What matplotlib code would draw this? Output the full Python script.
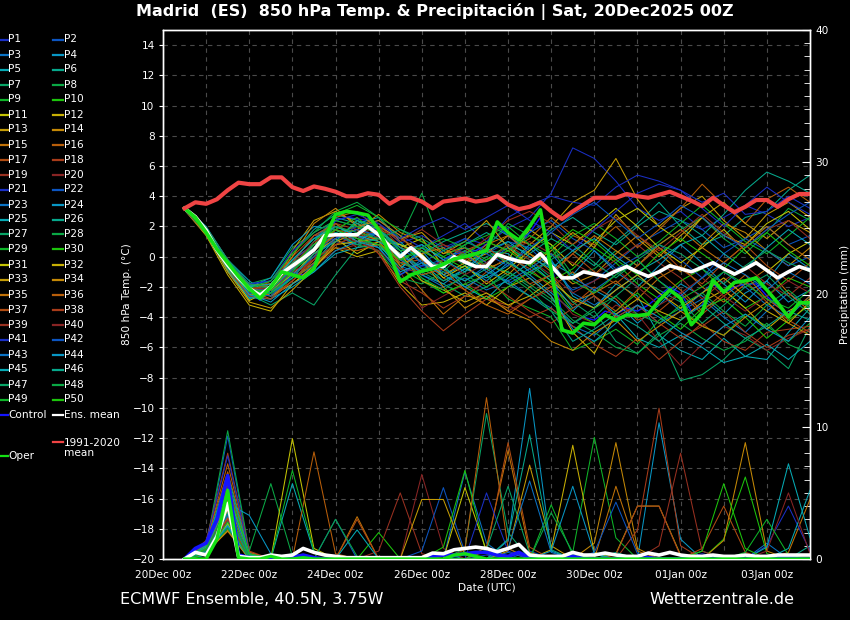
import matplotlib
matplotlib.use("Agg")
import matplotlib.pyplot as plt
from matplotlib.lines import Line2D
from matplotlib.ticker import MultipleLocator

plt.rcParams['font.family'] = ['DejaVu Sans']

# ---------------- data ----------------
tick_pos = [0, 2, 4, 6, 8, 10, 12, 14]
tick_labels = ['20Dec 00z', '22Dec 00z', '24Dec 00z', '26Dec 00z',
               '28Dec 00z', '30Dec 00z', '01Jan 00z', '03Jan 00z']

# 6-hourly time axis (days since 20Dec 00z) for main lines
t6 = [0.5 + 0.25 * k for k in range(59)]
# 12-hourly time axis for ensemble members
t12 = [0.5 + 0.5 * j for j in range(30)]

clim_mean = [3.2, 3.6, 3.5, 3.8, 4.4, 4.9, 4.8, 4.8, 5.25, 5.25,
             4.6, 4.35, 4.65, 4.5, 4.3, 4.0, 4.0, 4.2, 4.1, 3.5,
             3.9, 3.9, 3.65, 3.2, 3.65, 3.75, 3.85, 3.65, 3.75, 4.0,
             3.45, 3.15, 3.3, 3.6, 3.0, 2.5, 3.0, 3.45, 3.9, 3.9,
             3.9, 4.15, 4.0, 3.9, 4.1, 4.3, 4.0, 3.7, 3.35, 3.9,
             3.4, 2.95, 3.3, 3.75, 3.75, 3.3, 3.8, 4.15, 4.15]

ens_mean = [3.2, 2.65, 1.75, 0.45, -0.55, -1.4, -2.1, -2.55, -1.98, -1.1,
            -0.6, -0.1, 0.45, 1.4, 1.45, 1.45, 1.45, 2.0, 1.45, 0.7,
            0.0, 0.6, 0.0, -0.65, -0.65, 0.0, -0.35, -0.65, -0.65, 0.15,
            -0.1, -0.3, -0.4, 0.2, -0.6, -1.4, -1.4, -1.0, -1.15, -1.3,
            -0.95, -0.65, -1.0, -1.3, -1.0, -0.6, -0.8, -1.0, -0.7, -0.4,
            -0.8, -1.15, -0.8, -0.4, -0.9, -1.4, -1.0, -0.65, -0.9]

oper = [3.2, 2.6, 1.6, 0.5, -0.4, -1.3, -2.1, -2.75, -2.0, -1.0,
        -1.2, -1.4, -0.8, 1.2, 2.8, 3.0, 2.9, 2.75, 1.8, 0.2,
        -1.65, -1.2, -0.95, -0.8, -0.5, -0.15, 0.0, 0.2, 0.4, 2.3,
        1.6, 1.1, 2.0, 3.1, -0.9, -4.85, -5.05, -4.4, -4.5, -3.85,
        -4.2, -3.85, -3.9, -3.8, -2.9, -2.2, -2.75, -4.5, -3.7, -1.55,
        -2.35, -1.7, -1.6, -1.4, -2.2, -3.05, -4.0, -3.05, -3.05]

control = [3.2, 2.5, 1.5, 0.4, -0.5, -1.4, -2.2, -2.9, -2.2, -1.2,
           -1.0, -1.2, -0.5, 1.0, 2.4, 2.6, 2.5, 2.4, 1.6, 0.4,
           -1.2, -0.8, -0.6, -0.6, -0.2, 0.2, 0.3, 0.4, 0.8, 2.0,
           1.4, 0.8, 1.6, 2.6, -0.4, -3.8, -4.4, -4.0, -4.2, -3.6,
           -3.8, -3.4, -3.6, -3.2, -2.6, -2.0, -2.4, -3.6, -3.2, -1.8,
           -2.4, -2.0, -1.8, -1.8, -2.6, -3.3, -3.8, -3.0, -3.2]

prec_mean = [0.0, 0.5, 0.3, 1.7, 4.2, 0.2, 0.1, 0.1, 0.3, 0.2,
             0.3, 0.8, 0.5, 0.3, 0.2, 0.1, 0.1, 0.1, 0.1, 0.1,
             0.1, 0.1, 0.1, 0.45, 0.4, 0.7, 0.8, 0.9, 0.8, 0.55,
             0.8, 1.1, 0.3, 0.2, 0.2, 0.2, 0.5, 0.3, 0.3, 0.45,
             0.3, 0.2, 0.2, 0.45, 0.3, 0.5, 0.3, 0.2, 0.2, 0.3,
             0.2, 0.2, 0.3, 0.2, 0.2, 0.3, 0.3, 0.3, 0.3]

prec_control = [0.0, 0.8, 1.2, 3.0, 6.3, 0.3, 0.1, 0.0, 0.0, 0.0,
                0.1, 0.3, 0.1, 0.0, 0.0, 0.0, 0.0, 0.0, 0.0, 0.0,
                0.0, 0.0, 0.0, 0.2, 0.3, 0.3, 0.4, 0.5, 0.5, 0.3,
                0.2, 0.5, 0.1, 0.0, 0.0, 0.0, 0.2, 0.0, 0.0, 0.0,
                0.0, 0.0, 0.0, 0.1, 0.0, 0.0, 0.0, 0.0, 0.0, 0.0,
                0.0, 0.0, 0.0, 0.0, 0.0, 0.1, 0.1, 0.0, 0.0]

prec_oper = [0.0, 0.0, 0.0, 1.5, 5.2, 0.1, 0.0, 0.0, 0.2, 0.0,
             0.0, 0.1, 0.0, 0.0, 0.0, 0.0, 0.0, 0.0, 0.0, 0.0,
             0.0, 0.0, 0.0, 0.0, 0.0, 0.3, 0.4, 0.2, 0.0, 0.0,
             0.0, 0.0, 0.0, 0.0, 0.0, 0.0, 0.0, 0.0, 0.0, 0.0,
             0.0, 0.0, 0.0, 0.0, 0.0, 0.0, 0.0, 0.0, 0.0, 0.0,
             0.0, 0.0, 0.0, 0.0, 0.0, 0.0, 0.0, 0.0, 0.0]

# ensemble member 850 hPa temperatures (12-hourly)
t_p01 = [3.2, 1.8, -0.3, -2.0, -2.4, -0.9, 0.8, 2.0, 1.6, 2.2, 0.9, 1.4, 0.6, 1.2, 0.8, 1.9, 2.6, 4.2, 7.2, 6.5, 5.0, 3.2, 2.4, 3.0, 1.8, 2.6, 3.4, 2.8, 2.0, 2.6]
t_p02 = [3.3, 1.6, -0.8, -2.3, -1.8, -0.2, 1.2, 2.4, 2.0, 1.2, 0.4, 0.8, -0.2, 0.6, 0.2, 1.0, 0.6, -0.8, -2.2, -1.6, -0.4, 0.8, 1.6, 2.4, 1.8, 0.6, 1.2, 2.0, 0.8, 1.4]
t_p03 = [3.1, 1.9, -0.5, -2.6, -2.8, -1.2, 0.2, 1.0, 0.8, 1.6, -0.6, -1.2, -2.0, -1.4, -2.2, -1.6, -2.6, -3.4, -4.6, -5.2, -4.0, -3.2, -4.4, -3.6, -2.8, -4.0, -5.0, -3.6, -2.4, -3.4]
t_p04 = [3.2, 1.5, -1.0, -2.8, -2.2, -0.4, 1.4, 2.2, 1.0, 0.8, -0.8, 0.4, -1.2, -0.6, -1.6, -0.4, -1.2, -2.4, -3.6, -2.2, -3.0, -4.4, -3.2, -1.8, -2.6, -3.8, -2.4, -1.6, -3.0, -2.2]
t_p05 = [3.3, 2.0, -0.2, -1.6, -2.6, -1.4, -0.4, 1.2, 2.2, 2.6, 1.0, -0.4, -1.6, -0.8, 0.4, 0.2, -1.0, -0.2, -2.6, -3.4, -1.8, -2.6, -5.2, -6.2, -6.8, -5.4, -6.6, -6.8, -5.0, -3.4]
t_p06 = [3.2, 1.7, -0.6, -2.0, -1.6, 0.2, 1.8, 2.8, 2.4, 1.4, 0.2, -0.8, -0.4, 0.8, 1.6, 0.8, 0.2, 1.2, 0.4, -0.6, 1.0, 2.2, 3.6, 2.0, 0.8, 1.4, 2.6, 3.0, 4.4, 5.4]
t_p07 = [3.1, 1.6, -0.9, -2.5, -3.2, -2.4, -3.2, -1.2, 0.6, 1.8, -0.4, -1.0, -1.8, -2.6, -2.0, -1.0, -2.0, -3.0, -4.4, -3.6, -5.6, -6.4, -5.0, -8.2, -7.8, -6.8, -5.4, -6.2, -7.4, -4.6]
t_p08 = [3.2, 1.9, -0.4, -1.8, -1.4, 0.6, 1.6, 3.0, 3.6, 2.6, 1.2, 4.2, 0.4, -0.6, 0.6, 2.2, 1.4, 0.8, -1.2, -0.8, 0.4, -0.6, 0.8, 1.8, 2.6, 1.2, 0.2, 1.6, 3.2, 2.4]
t_p09 = [3.2, 1.7, -0.7, -2.2, -2.0, -0.8, 0.0, 1.6, 2.0, 1.0, -0.8, -1.6, -2.4, -1.8, -1.2, -2.8, -3.4, -4.0, -6.2, -5.6, -4.8, -5.8, -4.2, -3.4, -4.6, -5.2, -3.8, -4.6, -5.6, -4.4]
t_p10 = [3.3, 1.8, -0.5, -2.4, -2.6, -1.0, 1.0, 2.2, 1.2, 0.6, -0.2, 0.6, 0.0, -0.8, -0.2, 0.8, -0.6, -1.6, -0.8, 0.6, -0.4, -1.8, -2.8, -1.6, -0.8, -2.2, -3.4, -2.6, -1.4, -2.0]
t_p11 = [3.2, 1.6, -0.8, -2.9, -2.2, -0.6, 0.4, 1.8, 1.0, 1.8, 0.6, 1.2, -0.6, 0.2, -0.8, -0.2, 1.8, 0.8, -0.6, 1.0, 2.4, 3.2, 2.0, 1.0, 2.6, 1.4, 0.8, 2.2, 3.0, 1.8]
t_p12 = [3.1, 1.4, -1.2, -3.2, -3.6, -1.8, -0.6, 0.6, 0.0, 0.4, -1.8, -3.2, -3.0, -2.4, -3.2, -2.0, -1.4, -2.6, -5.0, -6.4, -3.8, -2.8, -3.6, -4.2, -3.0, -2.2, -3.4, -4.8, -3.6, -2.8]
t_p13 = [3.2, 1.8, -0.6, -2.0, -2.4, 0.4, 2.4, 3.0, 2.2, 1.6, 0.8, 0.0, -1.2, -0.4, 0.2, 1.4, 0.8, 2.0, 3.6, 4.4, 6.5, 3.8, 2.0, 3.2, 4.0, 2.4, 1.2, 2.8, 3.6, 2.6]
t_p14 = [3.2, 1.9, -0.2, -1.9, -1.8, -0.8, 0.6, 1.4, 1.8, 2.8, 1.6, 1.0, 0.2, 0.6, -0.4, -1.2, 0.2, -0.6, -1.8, -1.2, 0.2, 1.4, 0.2, -1.0, 0.8, 2.2, 1.6, 0.4, -0.6, 0.6]
t_p15 = [3.2, 1.5, -0.9, -2.6, -2.0, -0.2, 0.8, 2.6, 3.0, 1.8, -0.6, -2.2, -3.8, -2.6, -2.8, -3.4, -2.0, -1.2, -3.0, -2.4, -1.6, -2.8, -1.4, -0.6, -2.0, -3.0, -1.8, -0.8, -2.4, -3.6]
t_p16 = [3.3, 1.8, -0.4, -2.2, -2.8, -1.6, -0.2, 0.8, 1.4, 1.2, 0.2, -1.0, -0.6, 0.4, 1.0, 0.4, 1.2, 2.6, 1.4, 0.8, 2.0, 0.6, 1.8, 3.2, 4.8, 3.4, 2.2, 3.8, 4.6, 3.6]
t_p17 = [3.2, 1.6, -0.7, -2.4, -1.6, 0.0, 1.4, 1.6, 0.6, 1.0, -0.4, -0.2, -1.4, -2.2, -1.0, 0.0, -0.8, -2.0, -3.2, -2.0, -2.8, -4.2, -3.6, -2.4, -3.8, -2.6, -1.6, -3.0, -4.2, -5.0]
t_p18 = [3.1, 1.7, -0.5, -2.1, -2.4, -1.2, -0.2, 2.2, 1.8, 0.2, -2.0, -3.6, -4.9, -3.8, -2.8, -3.2, -4.0, -3.4, -4.6, -5.8, -6.6, -5.4, -6.8, -5.6, -4.4, -5.6, -6.2, -5.0, -4.8, -4.6]
t_p19 = [3.2, 1.8, -0.6, -2.3, -2.0, -0.4, 0.6, 1.0, 1.6, 2.2, 0.6, 0.2, 0.8, 0.0, -0.6, 0.4, 1.0, 0.2, -0.4, -1.2, -0.2, 0.8, -0.4, -1.4, -2.8, -1.6, -0.6, -1.8, -2.6, -1.4]
t_p20 = [3.2, 1.7, -0.3, -2.0, -2.2, -1.0, -0.6, 0.4, 0.8, 1.4, -1.0, -3.4, -2.6, -1.8, -2.4, -3.6, -2.8, -2.2, -3.8, -4.4, -3.2, -3.8, -5.6, -7.2, -5.8, -4.6, -5.2, -6.2, -5.4, -4.8]
t_p21 = [3.2, 1.9, -0.2, -1.8, -1.6, -0.2, 0.8, 1.2, 2.0, 2.4, 1.4, 0.6, 1.4, 2.2, 1.0, 2.6, 3.4, 4.0, 3.6, 3.4, 4.6, 5.4, 5.0, 4.4, 3.6, 4.2, 2.8, 3.0, 4.0, 3.2]
t_p22 = [3.3, 1.7, -0.6, -2.2, -2.4, -0.8, 0.2, 1.4, 0.8, 1.2, 0.0, -0.6, -0.2, 0.4, -0.4, 0.6, 1.6, 2.4, 1.2, 0.4, -0.8, 0.0, 0.8, -0.2, -1.4, 0.2, 1.2, 0.4, -0.6, 0.0]
t_p23 = [3.1, 1.5, -0.8, -2.6, -2.4, -0.6, 0.6, 2.0, 1.4, 0.6, -1.2, -0.2, -1.0, -1.6, -0.6, -1.8, -1.0, -0.2, -2.4, -3.2, -2.2, -1.2, -2.4, -3.6, -2.4, -1.0, -2.0, -3.2, -4.0, -2.6]
t_p24 = [3.2, 1.8, -0.5, -2.0, -1.4, 0.8, 2.0, 1.8, 1.0, 1.8, 0.4, -1.2, -1.8, -0.8, -1.4, -0.6, 0.8, -0.4, -1.2, 0.4, -1.0, -2.0, -0.6, 0.8, -0.4, -1.8, -3.0, -1.6, 0.2, -0.8]
t_p25 = [3.2, 1.6, -0.9, -2.7, -2.8, -2.0, -1.0, 0.2, 0.6, 0.8, -0.8, 0.6, -0.6, -2.0, -2.8, -1.4, -0.4, -1.6, -3.4, -2.6, -3.8, -5.4, -6.0, -5.2, -6.0, -7.0, -6.6, -5.8, -6.8, -5.6]
t_p26 = [3.2, 1.9, -0.3, -1.9, -2.0, -0.6, 1.0, 2.6, 2.2, 1.4, 0.8, 0.2, 1.0, 1.6, 2.2, 1.4, 0.4, 1.8, 2.6, 1.6, 0.8, 2.0, 3.0, 2.4, 1.4, 2.8, 4.4, 5.6, 5.0, 4.2]
t_p27 = [3.3, 1.8, -0.4, -2.1, -2.6, -1.4, -0.6, 1.0, 2.4, 2.0, 0.4, -0.8, -1.6, -1.0, 0.0, 0.6, -0.2, -1.4, -3.0, -4.0, -2.6, -1.4, -2.2, -3.0, -4.4, -3.2, -2.0, -1.2, -2.6, -3.8]
t_p28 = [3.2, 1.7, -0.6, -2.4, -2.0, -0.2, 1.2, 1.6, 0.8, 0.4, -1.4, -1.8, -1.0, 0.4, -0.6, -1.0, -1.8, -2.8, -4.2, -5.0, -6.0, -6.4, -5.2, -4.4, -5.4, -6.2, -5.6, -4.4, -5.8, -6.4]
t_p29 = [3.2, 1.6, -0.7, -2.3, -2.4, -1.0, 0.4, 2.8, 3.4, 2.6, 1.8, 1.0, 0.0, 0.8, 1.4, 2.0, 0.8, 0.0, 1.4, 2.2, 1.2, 0.0, 1.0, 2.2, 3.4, 2.2, 1.0, 0.2, 1.4, 2.6]
t_p30 = [3.1, 1.8, -0.4, -2.2, -1.8, -0.8, 0.6, 1.8, 2.6, 1.4, 0.0, -1.4, -2.4, -1.8, -2.8, -2.0, -1.0, -1.8, -3.6, -4.4, -3.6, -2.4, -3.8, -4.8, -3.4, -2.8, -4.0, -5.4, -4.2, -3.2]
t_p31 = [3.2, 1.7, -0.8, -2.5, -2.2, -1.2, 0.2, 1.2, 0.2, 1.0, 0.8, 0.2, -1.4, -0.6, -1.8, -0.8, 0.4, 1.6, 0.8, 2.0, 3.2, 2.0, 0.6, -0.4, 0.6, 1.8, 0.4, -1.0, 0.2, 1.0]
t_p32 = [3.3, 1.9, -0.3, -2.0, -2.6, -1.8, -0.8, 0.8, 1.0, 1.2, 0.2, -1.6, -2.2, -3.0, -2.4, -3.2, -2.6, -1.6, -2.8, -3.4, -2.2, -1.2, -2.4, -3.4, -2.4, -1.4, -2.6, -3.6, -4.4, -3.0]
t_p33 = [3.2, 1.6, -1.0, -3.0, -3.4, -2.2, -0.8, 1.0, 1.6, 2.0, 1.2, 1.6, 0.2, 1.0, 2.4, 0.6, -0.6, 0.4, 1.6, 0.6, 2.8, 1.2, 0.0, 1.4, 2.6, 3.6, 2.2, 1.2, 2.4, 1.6]
t_p34 = [3.2, 1.8, -0.5, -1.8, -2.0, 0.0, 2.2, 3.2, 2.0, 2.4, 1.4, -0.2, -2.0, -3.4, -2.6, -3.6, -4.2, -5.6, -6.2, -5.0, -4.2, -5.6, -4.6, -3.6, -4.6, -5.2, -4.0, -3.0, -4.4, -5.2]
t_p35 = [3.1, 1.5, -0.7, -2.4, -2.2, -0.8, 0.4, 1.4, 1.8, 1.0, -0.6, 0.2, 0.6, -0.4, 0.8, 1.4, 0.2, -1.0, 0.2, 1.4, 0.4, -0.6, 0.8, 1.8, 0.6, -0.4, 0.8, 2.0, 0.8, -0.2]
t_p36 = [3.2, 1.7, -0.4, -2.0, -2.6, -1.6, -0.4, 0.6, 0.4, 0.8, -0.2, -1.2, -0.8, -2.2, -3.2, -3.8, -2.8, -2.0, -1.0, -2.6, -3.6, -2.2, -1.0, -2.2, -3.6, -2.4, -1.2, -2.8, -3.8, -2.6]
t_p37 = [3.2, 1.9, -0.6, -2.2, -1.8, -0.4, 1.4, 2.2, 1.2, 1.8, 1.2, 0.4, -0.4, -0.2, 0.6, -0.4, -1.8, -1.2, 0.2, -1.0, -1.8, -0.6, 0.6, -0.8, -1.8, -0.4, 0.8, -0.6, -1.6, -0.4]
t_p38 = [3.3, 1.6, -0.8, -2.6, -2.8, -1.6, 0.0, 1.8, 1.4, 0.2, -1.6, -2.4, -3.4, -2.6, -1.6, -2.6, -3.6, -4.4, -3.4, -2.6, -4.0, -3.2, -4.4, -5.4, -4.6, -3.6, -5.0, -6.0, -5.2, -4.8]
t_p39 = [3.2, 1.8, -0.4, -2.0, -2.2, -1.0, -0.2, 0.8, 1.4, 2.0, 1.0, 1.8, 0.8, 0.2, 1.2, 2.4, 3.0, 2.2, 0.8, 1.8, 2.6, 1.4, 0.4, 1.6, 2.8, 1.6, 0.6, 1.8, 2.4, 1.2]
t_p40 = [3.1, 1.7, -0.6, -2.4, -2.0, -0.6, 1.0, 1.4, 1.0, 0.4, -0.8, -1.0, -0.2, -1.2, -0.4, 0.8, -0.2, -1.2, -2.4, -1.6, -0.8, -2.0, -3.2, -2.4, -1.4, -2.6, -3.6, -2.6, -1.6, -2.4]
t_p41 = [3.2, 1.8, -0.3, -1.8, -1.6, 0.4, 1.6, 2.4, 2.8, 2.2, 1.2, 2.0, 2.6, 1.8, 2.6, 3.4, 2.4, 1.6, 0.4, 1.8, 3.0, 4.2, 4.8, 4.4, 3.2, 2.0, 3.4, 4.6, 3.6, 2.8]
t_p42 = [3.2, 1.6, -0.7, -2.4, -2.6, -1.2, 0.0, 1.2, 1.8, 1.4, 0.6, -0.4, 0.4, 1.2, 0.2, -0.6, 0.6, 1.6, 2.8, 3.6, 2.4, 1.2, 2.2, 3.4, 2.6, 1.4, 0.6, 1.8, 2.8, 3.6]
t_p43 = [3.3, 1.9, -0.5, -2.2, -2.2, -0.8, 0.8, 1.6, 1.2, 1.6, -0.2, -1.0, -0.6, 0.2, -1.0, -1.6, -0.8, 0.2, -1.4, -2.2, -1.2, -0.2, -1.6, -2.6, -1.4, -0.4, -1.2, -2.2, -1.0, -1.8]
t_p44 = [3.2, 1.7, -0.6, -2.5, -3.0, -1.8, -1.0, 0.4, 1.0, 0.6, -1.0, -0.4, -1.2, -2.0, -1.2, -0.2, -1.4, -2.6, -4.8, -5.6, -4.4, -3.2, -4.0, -5.0, -5.8, -4.6, -3.8, -4.8, -5.6, -4.0]
t_p45 = [3.1, 1.8, -0.4, -2.0, -1.8, -0.2, 1.2, 2.0, 1.4, 1.0, 0.2, 0.8, -0.2, -1.0, 0.4, 1.0, 0.0, -0.8, 0.4, 1.2, 0.0, -1.0, -0.2, 0.8, 1.4, 0.2, -0.8, 0.6, 1.8, 0.8]
t_p46 = [3.2, 1.6, -0.8, -2.3, -2.4, -1.4, 0.2, 1.0, 2.4, 1.8, 0.6, 0.0, -0.8, -1.6, -0.8, -1.8, -2.6, -3.6, -5.6, -4.8, -3.8, -4.6, -5.6, -4.2, -3.2, -4.4, -5.4, -4.6, -3.6, -4.2]
t_p47 = [3.2, 1.9, -0.2, -1.8, -2.0, -0.4, 0.4, 1.6, 0.8, 1.2, 1.8, 1.2, 0.4, 1.0, 0.4, -0.4, -1.2, -0.2, 0.8, -0.4, -1.4, -0.2, 0.8, 0.2, -0.8, -1.8, -0.6, 0.4, -0.4, -1.0]
t_p48 = [3.2, 1.7, -0.5, -2.2, -2.4, -1.0, 0.6, 2.0, 1.6, 1.2, 0.0, -1.4, -2.2, -1.2, -2.0, -1.2, -2.2, -3.6, -4.4, -3.4, -2.6, -3.8, -4.4, -3.2, -2.4, -3.6, -4.6, -3.2, -2.2, -3.4]
t_p49 = [3.3, 1.8, -0.6, -2.1, -1.6, 0.2, 1.6, 2.4, 2.0, 1.6, 0.4, 0.6, 1.2, 0.6, -0.2, 0.4, 1.4, 0.6, -1.6, -2.4, -1.2, -0.2, -1.6, -2.8, -2.0, -1.0, -1.8, -2.8, -3.4, -2.2]
t_p50 = [3.2, 1.6, -0.7, -2.3, -2.2, -0.6, 0.8, 1.8, 1.2, 0.8, -0.2, 0.4, -0.4, 0.2, 1.0, 0.4, -0.6, 0.6, 1.8, 1.0, -0.2, -1.2, 0.2, 1.2, 0.2, -0.8, 0.6, 1.6, 0.4, -0.6]

# ensemble member precipitation (12-hourly, mm)
r_p01 = [0, 0.6, 3.2, 0.2, 0, 0, 0, 0, 0, 0,  0, 0, 0, 0, 0.3, 0, 0, 0, 0, 0,  0, 0, 0, 0, 0.4, 0, 0, 0, 0, 0]
r_p02 = [0, 0.8, 9.3, 0.4, 0, 0, 0, 3.0, 0, 0,  0, 0, 0, 0, 0, 0, 0.6, 0, 0, 0,  0, 0, 0, 0, 0, 0, 0, 0, 0, 0]
r_p03 = [0, 0.5, 4.1, 0, 0, 0, 0, 0, 0, 0,  0, 0, 0, 0.3, 0, 0.5, 0, 0, 0, 0,  0, 0, 0, 0, 0, 0, 0, 1.2, 0, 0]
r_p04 = [0, 0.9, 2.6, 0.3, 0, 0.4, 0, 0, 0, 0,  0, 0, 0, 0, 0, 0, 0, 0, 0, 0,  0, 0, 10.3, 1.5, 0, 0, 0, 0, 0, 0]
r_p05 = [0, 0.4, 3.8, 0.1, 0, 5.7, 0.5, 0, 0, 0,  0, 0, 0, 0, 0, 0, 0, 0, 0, 0,  0, 0, 0, 0, 0, 0, 0, 0, 0, 0]
r_p06 = [0, 1.2, 5.0, 0.5, 0, 0, 0, 0, 0, 0,  0, 0, 0.4, 0, 0, 0.8, 0, 0, 0, 0,  0, 0, 0, 0, 0.6, 0, 0, 0, 0, 1.0]
r_p07 = [0, 0.3, 2.4, 0, 0, 0, 0, 0, 0, 0,  0, 0, 0, 0, 0, 0, 0, 0, 0.3, 0,  0, 0, 0, 0, 0, 0, 0, 0, 0, 0]
r_p08 = [0, 1.0, 9.7, 0.6, 5.7, 0.2, 0, 0, 0, 0,  0, 0, 0, 0, 0, 0, 0, 0, 0, 0,  0, 0, 0, 0, 0, 0, 0, 0, 0, 0]
r_p09 = [0, 0.7, 3.5, 0, 0, 0, 0, 0, 0, 0,  0, 0, 0, 0, 0, 0, 0, 0, 0.5, 9.2,  1.6, 0, 0, 0, 0, 0, 0, 0, 0, 0]
r_p10 = [0, 0.5, 4.6, 0.2, 0, 0, 0, 0, 0, 2.0,  0, 0, 0, 0, 0, 0, 0, 0, 0, 0,  0, 0, 0, 0, 0, 1.5, 6.2, 0.4, 0, 0]
r_p11 = [0, 0.6, 2.8, 0.2, 0, 9.1, 0.8, 0, 0, 0,  0, 0, 0, 0, 0, 0, 0, 0, 0, 0,  0, 0, 0, 0, 0, 0, 0, 0, 0, 0]
r_p12 = [0, 0.8, 3.1, 0, 0, 0, 0, 0, 0, 0,  0, 0, 0, 0, 0, 0, 0, 0, 0, 0,  0.4, 4.0, 4.0, 0.3, 0, 0, 0, 0, 0, 0]
r_p13 = [0, 1.1, 5.8, 0.4, 0, 0, 0, 0, 0, 0,  0, 0, 0, 0, 0, 0.6, 7.1, 1.0, 0, 0,  0, 0, 0, 0, 0, 0, 0, 0, 0, 0]
r_p14 = [0, 0.4, 2.2, 0, 0, 0, 0, 0, 0, 0,  0, 0, 0, 0, 0, 0, 0, 0, 0, 1.2,  8.8, 0.8, 0, 0, 0, 0, 0, 0, 0, 0]
r_p15 = [0, 0.9, 4.4, 0.3, 0, 0, 0, 0, 3.2, 0,  0, 0, 0, 0, 0, 0, 0, 0, 0, 0,  5.5, 0.6, 0, 0, 0, 0, 0, 0, 0.5, 4.5]
r_p16 = [0, 1.3, 6.6, 0.5, 0, 0, 8.1, 0.4, 0, 0,  0, 0, 0, 0, 0, 0, 0, 0, 0, 0,  0, 0, 0, 0, 0, 0, 0, 0, 0, 0]
r_p17 = [0, 0.6, 3.0, 0.2, 0, 0, 0, 0, 3.0, 0,  0, 0, 0, 0, 0, 0, 0, 0, 0, 0,  0, 0, 0, 0, 0.8, 4.0, 0.5, 0, 0, 0]
r_p18 = [0, 1.4, 8.0, 0.6, 0, 0, 0, 0, 0, 0,  0, 0, 0, 0, 0, 0, 0, 0, 0, 0,  0, 2.2, 11.4, 1.0, 0, 0, 0, 0, 0, 0]
r_p19 = [0, 0.7, 4.9, 0.3, 0, 0, 0, 0, 0, 0.6,  5.0, 0.4, 0, 0, 0, 0, 0, 0, 0, 0,  0, 0, 0, 0, 0, 0, 0, 0, 0, 0]
r_p20 = [0, 0.9, 3.6, 0.2, 0, 0, 0, 0, 0, 0,  0, 6.4, 0.8, 0, 0, 0, 0, 0, 0, 0,  0, 0, 0, 0, 0, 0, 0, 0, 0, 0]
r_p21 = [0, 0.5, 2.9, 0, 0, 0, 0, 0, 0, 0,  0, 0, 0, 0, 0, 0, 0, 0, 0.4, 0,  0, 0, 0, 0, 0, 0, 0, 1.0, 4.0, 0.6]
r_p22 = [0, 1.0, 5.4, 0.4, 0, 0, 0, 0, 0, 0,  0, 0.6, 5.4, 0.5, 0, 0, 0, 0, 0, 0,  0, 0, 0, 0, 0, 0, 0, 0, 0, 0]
r_p23 = [0, 0.6, 3.3, 0.1, 0, 0, 0, 0, 0, 0,  0, 0, 0, 6.6, 1.2, 0, 0, 0, 0, 0,  0, 0, 0, 0, 0, 0, 0, 0, 0, 0]
r_p24 = [0, 0.8, 4.2, 3.3, 0.4, 0, 0, 0, 0, 0,  0, 0, 0, 0, 0, 1.4, 12.9, 0.6, 0, 0,  0, 0, 0, 0, 0, 0, 0, 0, 0, 0]
r_p25 = [0, 0.3, 2.6, 0, 0, 0, 0, 0, 2.2, 0,  0, 0, 0, 0, 0, 0, 0, 0, 0, 0,  0, 0, 0, 0, 0, 0, 0, 0, 0.8, 5.2]
r_p26 = [0, 1.1, 6.0, 0.3, 0, 0, 0, 0, 0, 0,  0, 0, 0, 0, 0, 0, 0, 0, 0, 0,  0.5, 0, 0, 0, 0, 0, 0, 0, 0, 0]
r_p27 = [0, 0.7, 3.9, 0.2, 0, 0, 0, 0, 0, 0,  0, 0, 0, 0.8, 11.0, 2.0, 0, 0, 0, 0,  0, 0, 0, 0, 0, 0, 0, 0, 0, 0]
r_p28 = [0, 0.5, 2.3, 0, 0, 0, 0, 3.0, 0.2, 0,  0, 0, 0, 0, 0, 0, 0, 0, 0, 0,  0, 0, 0, 0, 0, 0, 0, 0, 0, 0]
r_p29 = [0, 0.9, 4.7, 0.4, 0, 6.7, 0.6, 0, 0, 0,  0, 0, 0, 0, 0, 0, 0, 4.1, 0.3, 0,  0, 0, 0, 0, 0, 0, 0, 0, 0, 0]
r_p30 = [0, 0.6, 3.4, 0.1, 0, 0, 0, 0, 0, 0,  0, 0, 0.9, 6.7, 0.4, 0, 0, 0, 0, 0,  0, 0, 0, 0, 0, 0, 0, 0, 0, 0]
r_p31 = [0, 0.4, 2.7, 0, 0, 0, 0, 0, 0, 0,  0, 0, 0, 5.4, 0.6, 0, 0, 0, 0, 0,  0, 0, 0, 0, 0, 0, 0, 0, 0, 0]
r_p32 = [0, 1.0, 5.2, 0.3, 0, 0, 0, 0, 0, 0,  0, 0, 0, 0, 0, 0, 0, 0.7, 8.6, 0.5,  0, 0, 0, 0, 0, 0, 0, 0, 0, 0]
r_p33 = [0, 0.7, 3.7, 0.2, 0, 0, 0, 0, 0, 0,  0, 4.5, 4.5, 0.3, 0, 0, 0, 0, 0, 0,  0, 0, 0, 0, 0, 0, 0, 0, 0, 0]
r_p34 = [0, 0.5, 2.1, 0, 0, 0, 0, 0, 0, 0,  0, 0, 0, 0, 0, 0, 0, 0, 0, 0,  0, 0, 0, 0, 0, 1.4, 8.8, 0.6, 0, 0]
r_p35 = [0, 0.8, 4.4, 0.3, 0, 0, 0, 0, 0, 0,  0, 0, 0, 0, 0.9, 8.2, 0.5, 0, 0, 0,  0, 0, 0, 0, 0, 0, 0, 0, 0, 0]
r_p36 = [0, 1.2, 7.2, 0.5, 0, 0, 0, 0, 0, 0,  0, 0, 0, 0.7, 12.2, 0.8, 0, 0, 0, 0,  0, 0, 0, 0, 0, 0, 0, 0, 0, 0]
r_p37 = [0, 0.6, 3.1, 0.1, 0, 0, 0, 0, 0, 0,  0, 0, 0, 0, 0.6, 8.8, 0.9, 0, 0, 0,  0, 0, 0, 0, 0, 0, 0, 0, 0, 0]
r_p38 = [0, 0.9, 5.6, 0.4, 0, 0, 0, 0, 0, 0,  0, 0, 0, 0, 0, 0, 0, 0, 0, 0,  0.3, 4.0, 4.0, 0.2, 0, 0, 0, 0, 0, 0]
r_p39 = [0, 0.4, 2.9, 0, 0, 0, 0, 0, 0, 0,  0, 0, 0, 0, 0, 0, 0, 0, 0, 0,  0, 0, 1.0, 8.0, 0.6, 0, 0, 0, 0, 0]
r_p40 = [0, 0.7, 3.8, 0.2, 0, 0, 0, 0, 0, 0,  0, 0, 0, 0, 0, 0, 0, 0, 0, 0,  0, 0, 0, 0, 0, 0, 0, 0.6, 5.0, 0.4]
r_p41 = [0, 1.3, 7.8, 0.4, 0, 0, 0, 0, 0, 0,  0, 0, 0, 0, 5.0, 0.6, 0, 0, 0, 0,  0, 0, 0, 0, 0, 0, 0, 0, 0, 0]
r_p42 = [0, 0.6, 3.4, 0.2, 0, 0, 0, 0, 0, 0,  0, 0, 0, 0, 0, 0, 0, 0, 0, 0.5,  4.3, 0.4, 0, 0, 0, 0, 0, 0, 0, 0]
r_p43 = [0, 0.8, 4.6, 0.3, 0, 0, 0, 0, 0, 0,  0, 0, 0, 0, 0, 0.8, 5.9, 0.5, 0, 0,  0, 0, 0, 0, 0, 0, 0, 0, 0, 0]
r_p44 = [0, 0.5, 2.5, 0, 0, 0, 0, 0, 0, 0,  0, 0, 0, 0, 0, 0, 0, 0.6, 5.5, 0.4,  0, 0, 0, 0, 0, 0, 0, 0, 0, 0]
r_p45 = [0, 0.9, 5.1, 0.4, 0, 0, 0, 0, 0, 0,  0, 0, 0, 0, 0, 0, 0, 0, 0, 0,  0, 0, 0, 0, 0, 0, 0, 0.9, 7.2, 1.6]
r_p46 = [0, 1.0, 6.4, 0.3, 0, 0, 0, 0, 0, 0,  0, 0, 0, 0, 0, 1.5, 9.4, 0.7, 0, 0,  0, 0, 0, 0, 0, 0, 0, 0, 0, 0]
r_p47 = [0, 0.6, 3.5, 0.1, 0, 0, 0, 0, 0, 0,  0, 0, 0, 0, 0.7, 5.5, 0.4, 0, 0, 0,  0, 0, 0, 0, 0, 0, 0, 0, 0, 0]
r_p48 = [0, 0.7, 4.0, 0.2, 0, 0, 0, 0, 0, 0,  0, 0, 0, 0, 0, 0, 0, 3.5, 0.5, 0,  0, 0, 0, 0, 0, 0, 0, 0, 0, 0]
r_p49 = [0, 0.4, 2.8, 0, 0, 0, 0, 0, 0, 0,  0, 0, 0, 0, 0, 0, 0, 0, 0, 0,  0, 0, 0, 0, 0, 0, 0.5, 3.0, 0.3, 0]
r_p50 = [0, 0.8, 5.3, 0.4, 0, 0, 0, 0, 0, 0,  0, 0, 0, 0, 0, 0, 0, 0, 0, 0,  0, 0, 0, 0, 0.6, 5.7, 0.8, 0, 0, 0]

member_colors = ['#1a2fc4', '#0c55c0', '#0a72c2', '#0896c4', '#06aab4',
                 '#06a88c', '#08a466', '#0aa845', '#0eb428', '#1cc40c',
                 '#c4c404', '#c8b004', '#c49c06', '#c48806', '#c07208',
                 '#b85e0a', '#b04c12', '#a83c1a', '#983020', '#882424']

temp_members = [t_p01, t_p02, t_p03, t_p04, t_p05, t_p06, t_p07, t_p08, t_p09, t_p10,
                t_p11, t_p12, t_p13, t_p14, t_p15, t_p16, t_p17, t_p18, t_p19, t_p20,
                t_p21, t_p22, t_p23, t_p24, t_p25, t_p26, t_p27, t_p28, t_p29, t_p30,
                t_p31, t_p32, t_p33, t_p34, t_p35, t_p36, t_p37, t_p38, t_p39, t_p40,
                t_p41, t_p42, t_p43, t_p44, t_p45, t_p46, t_p47, t_p48, t_p49, t_p50]
prec_members = [r_p01, r_p02, r_p03, r_p04, r_p05, r_p06, r_p07, r_p08, r_p09, r_p10,
                r_p11, r_p12, r_p13, r_p14, r_p15, r_p16, r_p17, r_p18, r_p19, r_p20,
                r_p21, r_p22, r_p23, r_p24, r_p25, r_p26, r_p27, r_p28, r_p29, r_p30,
                r_p31, r_p32, r_p33, r_p34, r_p35, r_p36, r_p37, r_p38, r_p39, r_p40,
                r_p41, r_p42, r_p43, r_p44, r_p45, r_p46, r_p47, r_p48, r_p49, r_p50]

# ---------------- figure ----------------
W, H = 850, 620
fig = plt.figure(figsize=(W / 100, H / 100), dpi=100, facecolor='black')
ax = fig.add_axes([163 / W, (H - 559) / H, (810 - 163) / W, (559 - 30) / H])
ax.set_facecolor('black')
ax2 = ax.twinx()

C_MEAN = '#ffffff'
C_OPER = '#14e014'
C_CTRL = '#1414ff'
C_CLIM = '#f04444'

# temperature
ax.plot(t6, control, color=C_CTRL, lw=1.0, zorder=1.9)
for i, ys in enumerate(temp_members):
    ax.plot(t12, ys, color=member_colors[i % 20], lw=0.75, zorder=2)
ax.plot(t6, ens_mean, color=C_MEAN, lw=2.6, zorder=4)
ax.plot(t6, oper, color=C_OPER, lw=2.6, zorder=5)
ax.plot(t6, clim_mean, color=C_CLIM, lw=3.0, zorder=6)

# precipitation
for i, ys in enumerate(prec_members):
    ax2.plot(t12, ys, color=member_colors[i % 20], lw=0.75, zorder=2)
ax2.plot(t6, prec_control, color=C_CTRL, lw=2.6, zorder=3)
ax2.plot(t6, prec_mean, color=C_MEAN, lw=2.6, zorder=4)
ax2.plot(t6, prec_oper, color=C_OPER, lw=2.4, zorder=5)

# axes styling
ax.set_xlim(0, 15)
ax.set_ylim(-20, 15)
ax2.set_ylim(0, 40)
ax.set_xticks(list(range(0, 16)))
lab = []
for d in range(0, 16):
    lab.append(tick_labels[tick_pos.index(d)] if d in tick_pos else '')
ax.set_xticklabels(lab)
ax.set_yticks(list(range(-20, 15, 2)))
ax.grid(True, color='#4a4a4a', linestyle=(0, (4, 4)), linewidth=0.8)
ax.tick_params(axis='x', colors='white', labelsize=7.6, length=0, pad=8)
ax.tick_params(axis='y', colors='white', labelsize=7.6, length=3, pad=3)
ax2.yaxis.set_major_locator(MultipleLocator(10))
ax2.yaxis.set_minor_locator(MultipleLocator(1))
ax2.tick_params(axis='y', which='major', colors='white', labelsize=7.6,
                direction='in', length=6, pad=4)
ax2.tick_params(axis='y', which='minor', colors='white', direction='in', length=4)
for a in (ax, ax2):
    for s in a.spines.values():
        s.set_color('white')
        s.set_linewidth(1.0)

ax.set_ylabel('850 hPa Temp. (°C)', color='white', fontsize=7.6)
ax.yaxis.set_label_coords(-0.048, 0.5)
ax2.set_ylabel('Precipitation (mm)', color='white', fontsize=7.6)
ax2.yaxis.set_label_coords(1.046, 0.5)
ax.set_xlabel('Date (UTC)', color='white', fontsize=7.6)
ax.xaxis.set_label_coords(0.5, -0.045)

fig.text(435 / W, 1 - 12 / H,
         'Madrid  (ES)  850 hPa Temp. & Precipitación | Sat, 20Dec2025 00Z',
         color='white', fontsize=11.5, fontweight='bold', ha='center', va='center')
fig.text(120 / W, 1 - 599 / H, 'ECMWF Ensemble, 40.5N, 3.75W',
         color='white', fontsize=11.5, ha='left', va='center')
fig.text(794 / W, 1 - 599 / H, 'Wetterzentrale.de',
         color='white', fontsize=11.5, ha='right', va='center')

# legend (drawn manually, two columns)
def leg_item(x0, y, color, text, xlen=8, tx=8):
    fig.add_artist(Line2D([x0 / W, (x0 + xlen) / W], [1 - y / H, 1 - y / H],
                          color=color, lw=1.6, transform=fig.transFigure))
    fig.text((x0 + tx) / W, 1 - y / H, text, color='white', fontsize=7.6,
             ha='left', va='center')

for i in range(50):
    row, col = divmod(i, 2)
    y = 39.5 + 15 * row
    if col == 0:
        leg_item(0, y, member_colors[i % 20], 'P%d' % (i + 1))
    else:
        leg_item(53, y, member_colors[i % 20], 'P%d' % (i + 1), xlen=10, tx=11)
leg_item(0, 414.5, C_CTRL, 'Control')
leg_item(53, 414.5, C_MEAN, 'Ens. mean', xlen=10, tx=11)
fig.add_artist(Line2D([53 / W, 63 / W], [1 - 442 / H, 1 - 442 / H],
                      color=C_CLIM, lw=1.6, transform=fig.transFigure))
fig.text(64 / W, 1 - 448 / H, '1991-2020\nmean', color='white', fontsize=7.6,
         ha='left', va='center', linespacing=0.95)
leg_item(0, 456, C_OPER, 'Oper')

fig.savefig('out.png', dpi=100, facecolor='black')
